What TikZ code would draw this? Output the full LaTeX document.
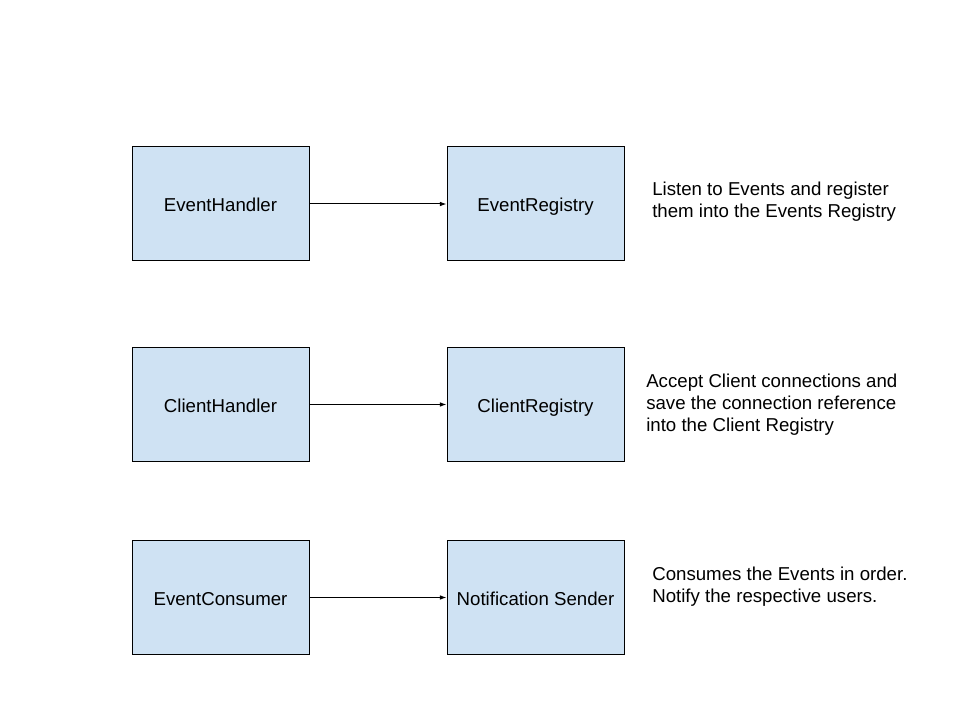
\documentclass[tikz,border=0pt]{standalone}
\usepackage{fontspec}
\setmainfont{Liberation Sans}
\usetikzlibrary{positioning,arrows.meta}
\definecolor{boxblue}{HTML}{CFE2F3}

\begin{document}
\begin{tikzpicture}[x=0.75pt, y=-0.75pt,
		box/.style={rectangle, draw, line width=0.75pt, fill=boxblue, minimum width=132.75pt, minimum height=85.5pt, inner sep=0pt, text height=13pt, text depth=1.5pt, font=\fontsize{14}{16.5}\selectfont},
		note/.style={anchor=west, align=left, inner sep=0pt, font=\fontsize{14}{16.5}\selectfont},
		node distance=102.75pt]
		\useasboundingbox (0,0) rectangle (960,720);

		\node [box] (EH) at (220.5,204) {EventHandler};
		\node [box, right=of EH] (ER) {EventRegistry};
		\node [box] (CH) at (220.5,404.5) {ClientHandler};
		\node [box, right=of CH] (CR) {ClientRegistry};
		\node [box] (EC) at (220.5,597.5) {EventConsumer};
		\node [box, right=of EC] (NS) {Notification Sender};

		\node [note] (ERnote) at (652,202) {Listen to Events and register\\them into the Events Registry};
		\node [note] (CRnote) at (646,405) {Accept Client connections and\\save the connection reference\\into the Client Registry};
		\node [note] (NSnote) at (652,587) {Consumes the Events in order.\\Notify the respective users.};

		\path[-{Latex[length=5pt, width=3.5pt]}, line width=0.75pt] (EH) edge (ER);
		\path[-{Latex[length=5pt, width=3.5pt]}, line width=0.75pt] (CH) edge (CR);
		\path[-{Latex[length=5pt, width=3.5pt]}, line width=0.75pt] (EC) edge (NS);
	\end{tikzpicture}
\end{document}
